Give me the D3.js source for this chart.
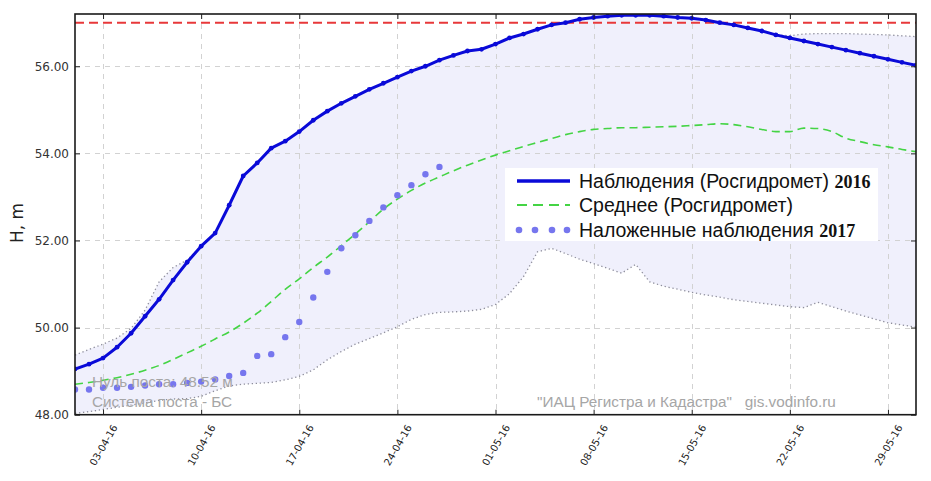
<!DOCTYPE html>
<html><head><meta charset="utf-8">
<script src="https://cdn.jsdelivr.net/npm/d3@7"></script>
<style>body{margin:0;background:#fff}svg{display:block}</style>
</head><body>
<svg id="c" width="931" height="481"></svg>
<script>
// ---- data ----
const startDate = Date.UTC(2016, 3, 1);   // 01-04-16
const endDate = Date.UTC(2016, 4, 31);    // 31-05-16
const dates = d3.utcDay.range(new Date(startDate), new Date(endDate + 1));
const tickDates = ["2016-04-03","2016-04-10","2016-04-17","2016-04-24","2016-05-01","2016-05-08","2016-05-15","2016-05-22","2016-05-29"];
const yTicks = [48, 50, 52, 54, 56];
const dangerLevel = 57.0;

const obs2016 = [49.05,49.16,49.30,49.55,49.87,50.26,50.65,51.09,51.50,51.87,
  52.17,52.81,53.48,53.78,54.12,54.28,54.50,54.76,54.97,55.15,
  55.31,55.47,55.61,55.75,55.89,56.00,56.14,56.25,56.35,56.39,
  56.51,56.65,56.74,56.85,56.95,57.00,57.08,57.12,57.15,57.17,
  57.17,57.17,57.15,57.12,57.10,57.06,57.00,56.95,56.88,56.81,
  56.72,56.65,56.58,56.51,56.44,56.37,56.30,56.23,56.16,56.09,56.02];

const meanLevel = [48.70,48.74,48.79,48.85,48.93,49.02,49.13,49.27,49.42,49.57,
  49.74,49.90,50.10,50.33,50.60,50.88,51.12,51.38,51.62,51.88,
  52.15,52.43,52.72,52.95,53.15,53.32,53.46,53.60,53.73,53.85,
  53.96,54.06,54.16,54.25,54.34,54.43,54.50,54.55,54.57,54.59,
  54.59,54.60,54.61,54.62,54.64,54.66,54.68,54.66,54.61,54.55,
  54.50,54.50,54.58,54.57,54.50,54.35,54.27,54.20,54.15,54.09,54.04];

const obs2017 = [48.58,48.58,48.62,48.62,48.64,48.67,48.70,48.70,48.73,48.76,
  48.81,48.89,48.96,49.35,49.39,49.78,50.13,50.69,51.28,51.82,
  52.12,52.45,52.76,53.04,53.27,53.52,53.69];

const maxLevel = [49.37,49.50,49.62,49.76,49.98,50.40,51.05,51.38,51.55,51.87,
  52.17,52.81,53.48,53.78,54.12,54.28,54.50,54.76,54.97,55.15,
  55.31,55.47,55.61,55.75,55.89,56.00,56.14,56.25,56.35,56.39,
  56.51,56.65,56.74,56.85,56.95,57.00,57.08,57.12,57.15,57.17,
  57.17,57.17,57.15,57.12,57.10,57.06,57.00,56.95,56.88,56.81,
  56.72,56.70,56.74,56.75,56.75,56.75,56.74,56.73,56.72,56.70,56.68];

const minLevel = [48.03,48.07,48.12,48.17,48.22,48.27,48.33,48.36,48.37,48.42,
  48.55,48.66,48.70,48.72,48.74,48.80,48.88,49.03,49.26,49.45,
  49.62,49.75,49.88,50.02,50.19,50.30,50.35,50.36,50.38,50.42,
  50.53,50.78,51.17,51.74,51.82,51.70,51.57,51.47,51.36,51.25,
  51.45,51.05,50.95,50.88,50.81,50.75,50.70,50.64,50.60,50.56,
  50.52,50.48,50.46,50.58,50.48,50.38,50.29,50.20,50.11,50.06,50.01];

const legendLabels = ["Наблюдения (Росгидромет) ", "Среднее (Росгидромет)", "Наложенные наблюдения "];
const legendYears = ["2016", "", "2017"];
const noteLines = ["Нуль поста: 48.52 м", "Система поста - БС"];
const credit = "\"ИАЦ Регистра и Кадастра\"   gis.vodinfo.ru";

// ---- layout ----
const L = 75, R = 916, T = 14, B = 414.7;
const svg = d3.select("#c");
const x = d3.scaleUtc().domain([new Date(startDate), new Date(endDate)]).range([L, R]);
const y = d3.scaleLinear().domain([48, 57.2]).range([B, T]);
const ticks = tickDates.map(s => new Date(s + "T00:00:00Z"));
const fmt = d3.utcFormat("%d-%m-%y");

svg.append("clipPath").attr("id","clip").append("rect")
  .attr("x", L).attr("y", T).attr("width", R - L).attr("height", B - T);
const plot = svg.append("g").attr("clip-path","url(#clip)");

// envelope fill
const band = dates.map((d,i) => ({d, lo: minLevel[i], hi: maxLevel[i]}));
plot.append("path").datum(band)
  .attr("fill", "#f0f0fc")
  .attr("d", d3.area().x(p => x(p.d)).y0(p => y(p.lo)).y1(p => y(p.hi)));

// grid
const grid = plot.append("g").attr("stroke", "#d2d2d2").attr("stroke-width", 1).attr("stroke-dasharray", "5,5");
grid.selectAll("line.gx").data(ticks).join("line")
  .attr("x1", d => Math.round(x(d)) + 0.5).attr("x2", d => Math.round(x(d)) + 0.5)
  .attr("y1", T).attr("y2", B);
grid.selectAll("line.gy").data(yTicks).join("line")
  .attr("y1", d => Math.round(y(d)) + 0.5).attr("y2", d => Math.round(y(d)) + 0.5)
  .attr("x1", L).attr("x2", R);

// envelope borders
const line = d3.line().x((v,i) => x(dates[i])).y(v => y(v));
[minLevel, maxLevel].forEach(arr => {
  plot.append("path").datum(arr).attr("fill","none")
    .attr("stroke","#8e8e9c").attr("stroke-width",1.3).attr("stroke-dasharray","1.3,2.7")
    .attr("d", line);
});

// danger level
plot.append("line").attr("x1", L).attr("x2", R)
  .attr("y1", y(dangerLevel)).attr("y2", y(dangerLevel))
  .attr("stroke", "#e8383a").attr("stroke-width", 2).attr("stroke-dasharray", "9,5");

// mean
plot.append("path").datum(meanLevel).attr("fill","none")
  .attr("stroke","#44d444").attr("stroke-width",1.6).attr("stroke-dasharray","8,5")
  .attr("d", d3.line().curve(d3.curveMonotoneX).x((v,i) => x(dates[i])).y(v => y(v)));

// 2017 dots
plot.selectAll("circle.o17").data(obs2017).join("circle")
  .attr("cx", (v,i) => x(dates[i])).attr("cy", v => y(v)).attr("r", 3.2)
  .attr("fill", "#7676ee");

// 2016 observations
plot.append("path").datum(obs2016).attr("fill","none")
  .attr("stroke","#0a0ad8").attr("stroke-width",3).attr("stroke-linejoin","round")
  .attr("d", line);
plot.selectAll("circle.o16").data(obs2016).join("circle")
  .attr("cx", (v,i) => x(dates[i])).attr("cy", v => y(v)).attr("r", 2.4)
  .attr("fill", "#0a0ad8");

// axes
const axB = svg.append("g").attr("transform", `translate(0,${B})`)
  .call(d3.axisBottom(x).tickValues(ticks).tickFormat(fmt).tickSize(-5).tickPadding(0));
axB.select(".domain").remove();
axB.selectAll("line").attr("stroke","#222");
axB.selectAll("text")
  .attr("font-family","DejaVu Sans").attr("font-size", 10).attr("fill","#222")
  .attr("text-anchor","middle").attr("dominant-baseline","central").attr("dy", null)
  .attr("y", null)
  .attr("transform", "translate(0,30.5) rotate(-60)");

const axT = svg.append("g").attr("transform", `translate(0,${T})`)
  .call(d3.axisTop(x).tickValues(ticks).tickFormat("").tickSize(-5));
axT.select(".domain").remove();
axT.selectAll("line").attr("stroke","#222");

const axL = svg.append("g").attr("transform", `translate(${L},0)`)
  .call(d3.axisLeft(y).tickValues(yTicks).tickFormat(d3.format(".2f")).tickSize(-5).tickPadding(6));
axL.select(".domain").remove();
axL.selectAll("line").attr("stroke","#222");
axL.selectAll("text").attr("font-family","DejaVu Sans").attr("font-size", 12).attr("fill","#333");

const axR = svg.append("g").attr("transform", `translate(${R},0)`)
  .call(d3.axisRight(y).tickValues(yTicks).tickFormat("").tickSize(-5));
axR.select(".domain").remove();
axR.selectAll("line").attr("stroke","#222");

// frame
svg.append("rect").attr("x", L).attr("y", T).attr("width", R - L).attr("height", B - T)
  .attr("fill","none").attr("stroke","#1a1a1a").attr("stroke-width",1.6);

// y label
svg.append("text").attr("transform","translate(23,223) rotate(-90)")
  .attr("text-anchor","middle").attr("font-family","DejaVu Sans").attr("font-size",17)
  .attr("fill","#222").text("H, m");

// notes
svg.selectAll("text.note").data(noteLines).join("text")
  .attr("x", 92).attr("y", (d,i) => 386.5 + i*20.5)
  .attr("font-family","Liberation Sans, Arial").attr("font-size",15.3).attr("fill","#a6a6a6")
  .text(d => d);
svg.append("text").attr("x", 537).attr("y", 407)
  .attr("font-family","Liberation Sans, Arial").attr("font-size",15.3).attr("fill","#a6a6a6")
  .style("white-space","pre")
  .text(credit);

// legend
const lg = svg.append("g");
lg.append("rect").attr("x",505).attr("y",168).attr("width",373).attr("height",73).attr("fill","#fff");
const rowY = [181, 205, 230];
lg.append("line").attr("x1",517).attr("x2",570).attr("y1",rowY[0]).attr("y2",rowY[0])
  .attr("stroke","#0a0ad8").attr("stroke-width",3.5);
lg.append("line").attr("x1",517).attr("x2",570).attr("y1",rowY[1]).attr("y2",rowY[1])
  .attr("stroke","#44d444").attr("stroke-width",1.8).attr("stroke-dasharray","10,6");
lg.selectAll("circle").data([519,535,552,567]).join("circle")
  .attr("cx", d => d).attr("cy", rowY[2]).attr("r", 3.3).attr("fill","#7676ee");
legendLabels.forEach((t,i) => {
  const tx = lg.append("text").attr("x", 579).attr("y", rowY[i] + 7)
    .attr("font-family","Liberation Sans, Arial").attr("font-size",19.5).attr("fill","#111")
    .style("white-space","pre");
  tx.append("tspan").text(t);
  if (legendYears[i]) tx.append("tspan").attr("font-family","Liberation Serif, Times New Roman")
    .attr("font-weight","bold").attr("font-size",18).text(legendYears[i]);
});
</script>
</body></html>
